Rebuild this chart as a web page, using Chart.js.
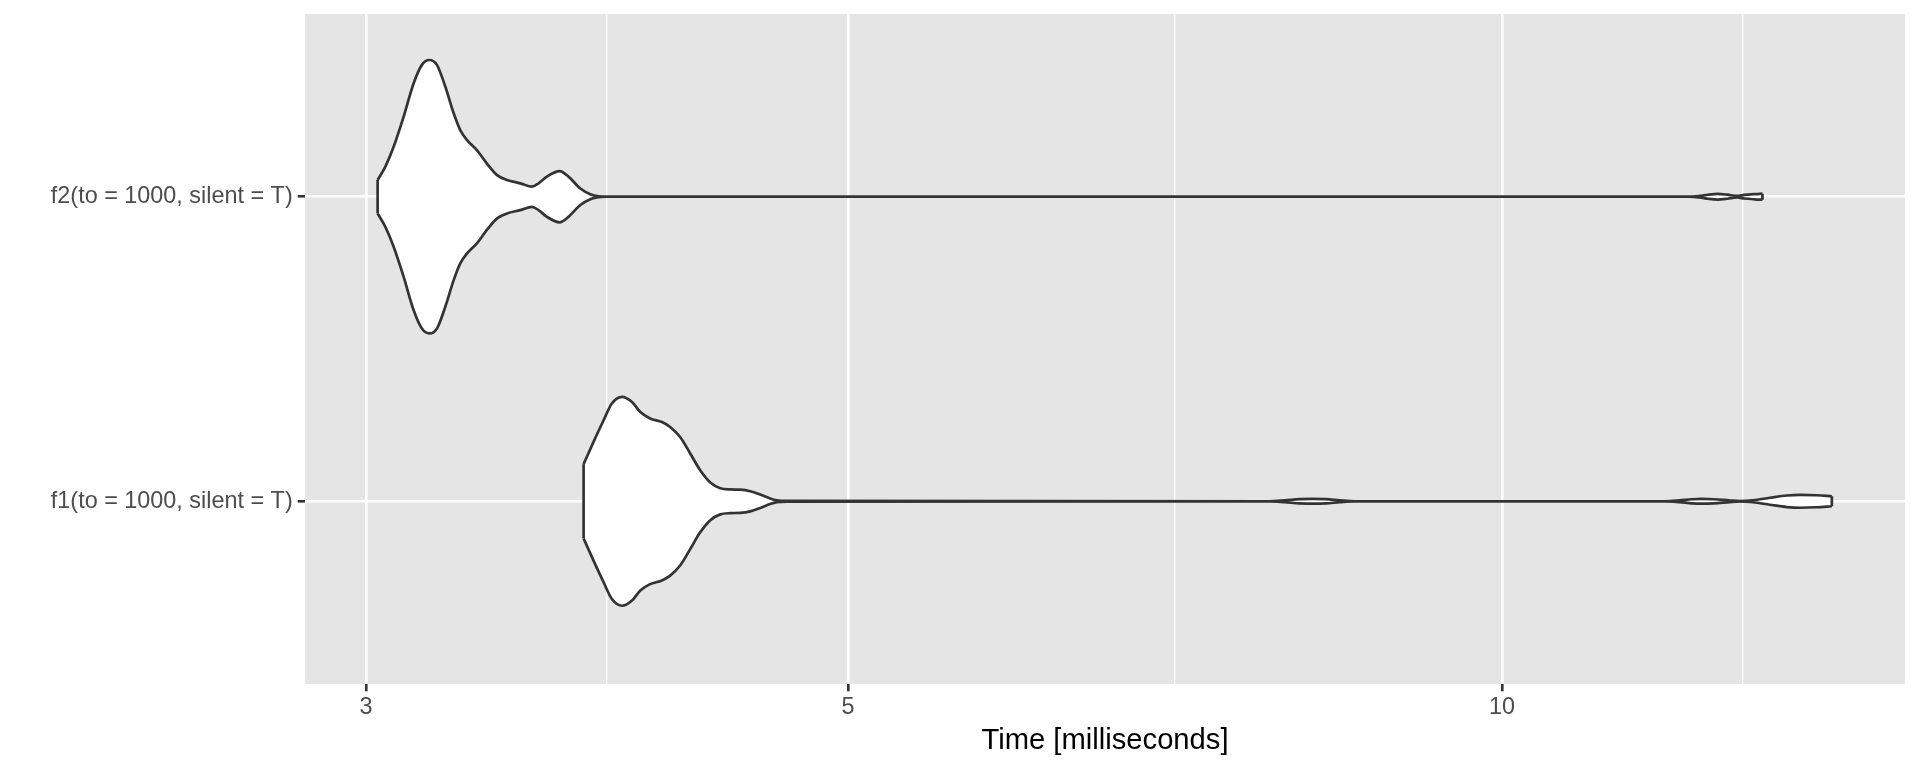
<!DOCTYPE html>
<html><head><meta charset="utf-8">
<script src="https://cdn.jsdelivr.net/npm/chart.js@4.4.1/dist/chart.umd.min.js"></script>
<style>html,body{margin:0;padding:0;background:#fff;} #wrap{width:1920px;height:768px;}</style>
</head><body><div id="wrap"><canvas id="c" width="1920" height="768"></canvas></div>
<script>
const categories = ['f1(to = 1000, silent = T)', 'f2(to = 1000, silent = T)'];
const xTickValues = [3, 5, 10];
const xMinorValues = [3.873, 7.071, 12.91];
const xLimits = [2.812, 15.33];
const axisTitle = 'Time [milliseconds]';

// f1 violin: time (ms) and half-width (in category units)
const f1Time = [3.778, 3.818, 3.859, 3.893, 3.935, 3.977, 4.012, 4.054, 4.105, 4.141, 4.185, 4.230, 4.275, 4.321, 4.367, 4.413, 4.460, 4.508, 4.556, 4.604, 4.637, 4.686,
  7.818, 7.944, 8.071, 8.183, 8.297, 8.421, 8.556,
  11.885, 12.075, 12.230, 12.360, 12.519, 12.733, 12.869, 13.047, 13.284, 13.526, 13.713, 13.962, 14.186];
const f1HalfWidth = [0.122, 0.195, 0.266, 0.321, 0.343, 0.326, 0.293, 0.272, 0.260, 0.244, 0.211, 0.157, 0.102, 0.062, 0.043, 0.039, 0.038, 0.033, 0.022, 0.009, 0.003, 0.001,
  0, 0.003, 0.007, 0.008, 0.007, 0.003, 0,
  0, 0.003, 0.0066, 0.0076, 0.0066, 0.0026, 0.0007, 0.0033, 0.0115, 0.019, 0.0213, 0.0197, 0.0164];

// f2 violin
const f2Time = [3.037, 3.062, 3.089, 3.122, 3.155, 3.183, 3.208, 3.234, 3.263, 3.292, 3.315, 3.339, 3.374, 3.410, 3.447, 3.483, 3.533, 3.577, 3.602, 3.634, 3.683, 3.718, 3.765, 3.805, 3.832, 3.870,
  12.20, 12.33, 12.44, 12.57, 12.70, 12.83, 12.93, 13.07, 13.18];
const f2HalfWidth = [0.055, 0.099, 0.164, 0.263, 0.372, 0.433, 0.449, 0.433, 0.361, 0.274, 0.219, 0.186, 0.153, 0.109, 0.071, 0.055, 0.044, 0.033, 0.044, 0.066, 0.084, 0.066, 0.027, 0.008, 0.002, 0,
  0, 0.0026, 0.0066, 0.0092, 0.0066, 0.0026, 0.0059, 0.0085, 0.0099];

const FONT = "'Liberation Sans', Arial, Helvetica, sans-serif";
const OUTLINE = '#333333';
const LW = 2.7;

function side(times, widths, center, sign) {
  return times.map((t, i) => ({x: t, y: center + sign * widths[i]}));
}
function endCap(times, widths, center, idx) {
  return [{x: times[idx], y: center - widths[idx]}, {x: times[idx], y: center + widths[idx]}];
}
function violinDatasets(times, widths, center) {
  const base = {showLine: true, borderColor: OUTLINE, borderWidth: LW, pointRadius: 0,
    cubicInterpolationMode: 'monotone', tension: 0.4, fill: false, order: 1};
  const last = times.length - 1;
  const cap = {tension: 0, cubicInterpolationMode: 'default'};
  return [
    // outlines (drawn on top)
    Object.assign({}, base, {data: side(times, widths, center, 1)}),
    Object.assign({}, base, {data: side(times, widths, center, -1)}),
    Object.assign({}, base, cap, {data: endCap(times, widths, center, 0)}),
    Object.assign({}, base, cap, {data: endCap(times, widths, center, last)}),
    // white body (drawn underneath)
    Object.assign({}, base, {data: side(times, widths, center, 1), fill: '+1', backgroundColor: '#FFFFFF',
      borderWidth: 0, borderColor: 'rgba(0,0,0,0)', order: 2}),
    Object.assign({}, base, {data: side(times, widths, center, -1), borderWidth: 0,
      borderColor: 'rgba(0,0,0,0)', order: 2})
  ];
}

const panelBg = {
  id: 'panelBg',
  beforeDraw(chart) {
    const {ctx, chartArea: a} = chart;
    ctx.save();
    ctx.fillStyle = '#E5E5E5';
    ctx.fillRect(a.left, a.top, a.right - a.left, a.bottom - a.top);
    ctx.restore();
  }
};

new Chart(document.getElementById('c'), {
  type: 'scatter',
  data: {
    datasets: violinDatasets(f1Time, f1HalfWidth, 1).concat(violinDatasets(f2Time, f2HalfWidth, 2))
  },
  options: {
    responsive: false, animation: false, devicePixelRatio: 1,
    layout: {padding: {top: 14, right: 15, left: 0, bottom: 0}},
    plugins: {legend: {display: false}, tooltip: {enabled: false}},
    scales: {
      x: {
        type: 'logarithmic', min: xLimits[0], max: xLimits[1],
        afterBuildTicks(s) {
          s.ticks = xTickValues.concat(xMinorValues).sort((a, b) => a - b)
            .map(v => ({value: v}));
        },
        afterFit(s) { s.height = 84; s.paddingLeft = 0; s.paddingRight = 0; },
        ticks: {autoSkip: false, maxRotation: 0, minRotation: 0, padding: 2.5, color: '#4D4D4D',
          font: {family: FONT, size: 23.4},
          callback: (v) => xTickValues.includes(v) ? String(v) : ''},
        grid: {color: '#FFFFFF',
          lineWidth: (c) => (c.tick && xTickValues.includes(c.tick.value)) ? 2.6 : 1.3,
          tickLength: 7.3,
          tickColor: (c) => (c.tick && xTickValues.includes(c.tick.value)) ? OUTLINE : 'rgba(0,0,0,0)',
          tickWidth: 2.6},
        border: {display: false},
        title: {display: true, text: axisTitle, color: '#000000',
          font: {family: FONT, size: 29.2, lineHeight: 1}, padding: {top: 0, bottom: 12}}
      },
      y: {
        type: 'linear', min: 0.4, max: 2.6,
        afterBuildTicks(s) { s.ticks = [1, 2].map(v => ({value: v})); },
        afterFit(s) { s.width = 305; s.paddingTop = 0; s.paddingBottom = 0; },
        ticks: {autoSkip: false, padding: 5, color: '#4D4D4D', font: {family: FONT, size: 23.4},
          callback: (v) => categories[v - 1] || ''},
        grid: {color: '#FFFFFF', lineWidth: 2.6, tickLength: 7.3, tickColor: OUTLINE, tickWidth: 2.6},
        border: {display: false}
      }
    }
  },
  plugins: [panelBg]
});
</script>
</body></html>
